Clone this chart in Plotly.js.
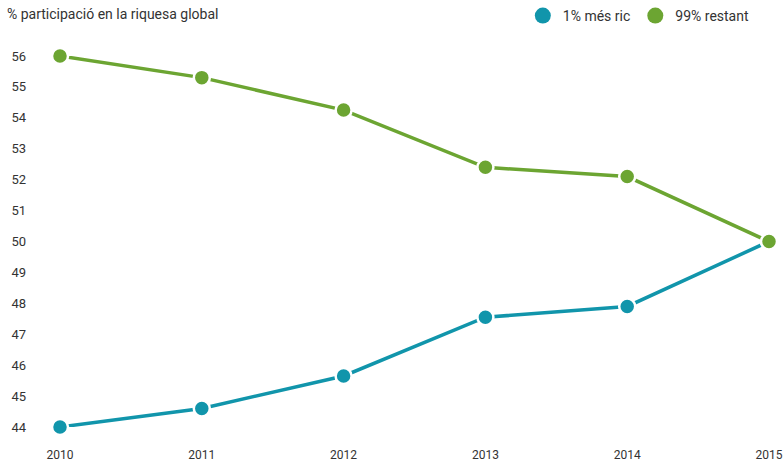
<!DOCTYPE html>
<html><head><meta charset="utf-8">
<script src="https://cdn.plot.ly/plotly-3.0.1.min.js"></script>
<style>body{margin:0;background:#fff}#c{width:784px;height:463px}</style>
</head><body><div id="c"></div>
<script>
const years = [2010, 2011, 2012, 2013, 2014, 2015];
const yearLabels = ['2010', '2011', '2012', '2013', '2014', '2015'];
const richest1 = [44.0, 44.6, 45.65, 47.55, 47.9, 50.0];
const rest99 = [56.0, 55.3, 54.25, 52.4, 52.1, 50.0];
const yTicks = [44,45,46,47,48,49,50,51,52,53,54,55,56];
const blue = '#1195ab', green = '#6ca532';
const font = 'Roboto, Arial, sans-serif';
const mk = (c)=>({size:16, color:c, line:{color:'#fff', width:2.5}});
const traces = [
  {x:years, y:richest1, mode:'lines+markers', line:{color:blue, width:3.5}, marker:mk(blue), cliponaxis:false, showlegend:false, name:'1% més ric'},
  {x:years, y:rest99, mode:'lines+markers', line:{color:green, width:3.5}, marker:mk(green), cliponaxis:false, showlegend:false, name:'99% restant'},
  {x:[null], y:[null], mode:'markers', marker:{size:16, color:blue}, name:'1% més ric'},
  {x:[null], y:[null], mode:'markers', marker:{size:16, color:green}, name:'99% restant'}
];
const layout = {
  width:784, height:463,
  margin:{l:60, r:14.5, t:56, b:36},
  paper_bgcolor:'#fff', plot_bgcolor:'#fff',
  font:{family:font, size:13, color:'#333'},
  showlegend:true,
  legend:{orientation:'h', x:0.98, xanchor:'right', y:1, yref:'container', yanchor:'top', font:{size:14, color:'#333'}, itemwidth:30, tracegroupgap:0},
  annotations:[{text:'% participació en la riquesa global', xref:'paper', yref:'paper', x:-0.077, y:1.0, yshift:42, xanchor:'left', yanchor:'middle', showarrow:false, font:{size:14, color:'#333'}}],
  xaxis:{range:[2010,2015], tickvals:years, ticktext:yearLabels, showgrid:false, zeroline:false, showline:false, ticks:'', ticklabelstandoff:19, ticklabeloverflow:'allow', fixedrange:true, tickfont:{size:12}},
  yaxis:{range:[44,56], tickvals:yTicks, ticktext:yTicks.map(String), showgrid:false, zeroline:false, showline:false, ticks:'', ticklabelstandoff:33, fixedrange:true, tickfont:{size:13}}
};
Plotly.newPlot('c', traces, layout, {displayModeBar:false, staticPlot:true});
</script></body></html>
